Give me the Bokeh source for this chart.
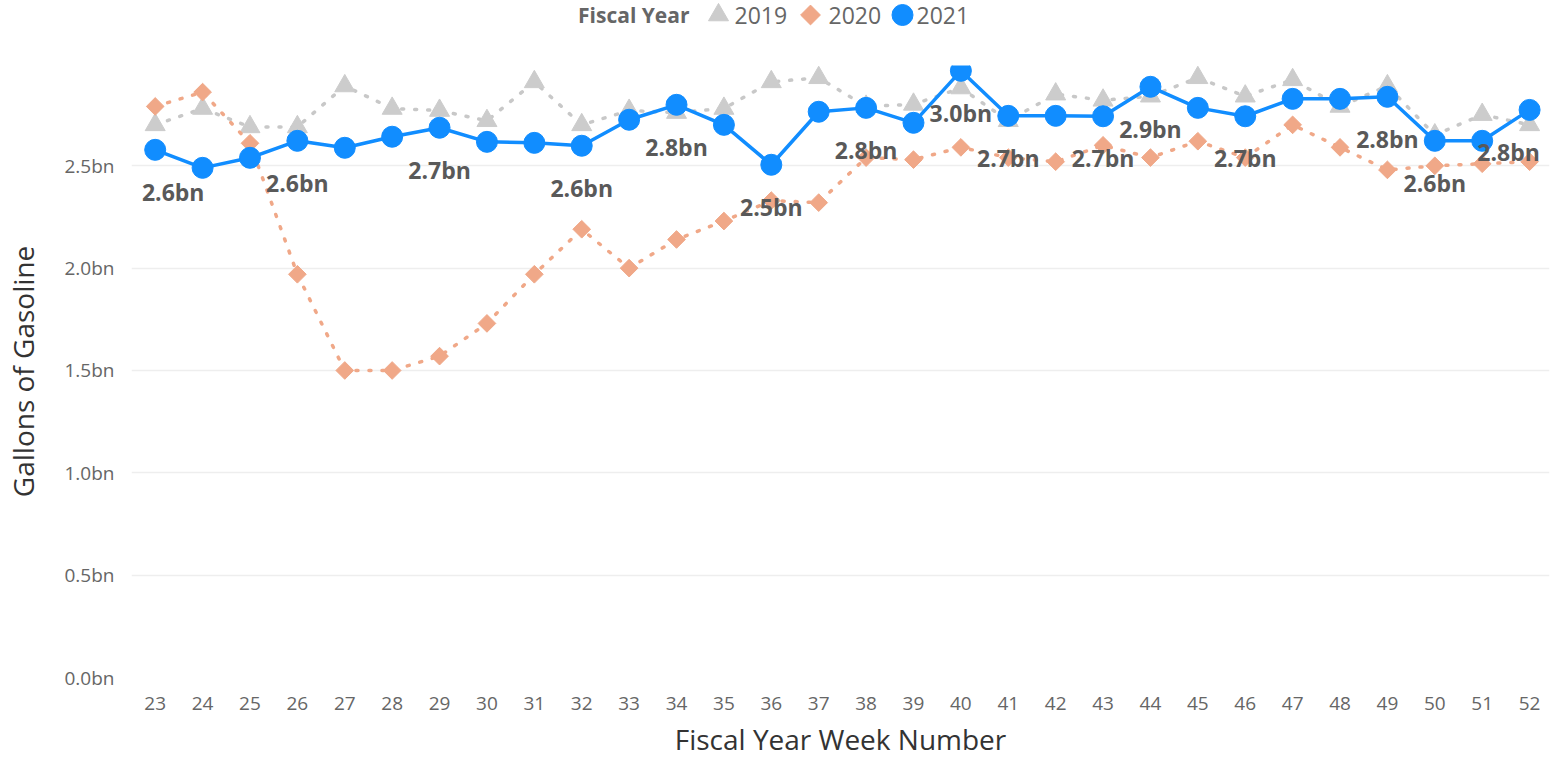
from math import pi
from bokeh.plotting import figure
from bokeh.layouts import column
from bokeh.models import (Range1d, FixedTicker, PrintfTickFormatter,
                          ColumnDataSource)
from bokeh.embed import file_html
from bokeh.resources import INLINE
from bokeh.core.properties import value

# ---------------- data ----------------
weeks = list(range(23, 53))
fy2019 = [2.70, 2.78, 2.69, 2.69, 2.89, 2.78, 2.77, 2.72, 2.91, 2.70,
          2.77, 2.76, 2.78, 2.91, 2.93, 2.79, 2.80, 2.88, 2.72, 2.85,
          2.82, 2.84, 2.93, 2.84, 2.92, 2.79, 2.89, 2.65, 2.75, 2.70]
fy2020 = [2.79, 2.86, 2.61, 1.97, 1.50, 1.50, 1.57, 1.73, 1.97, 2.19,
          2.00, 2.14, 2.23, 2.33, 2.32, 2.54, 2.53, 2.59, 2.54, 2.52,
          2.60, 2.54, 2.62, 2.54, 2.70, 2.59, 2.48, 2.50, 2.51, 2.52]
fy2021 = [2.578, 2.490, 2.539, 2.622, 2.588, 2.642, 2.686, 2.617, 2.612, 2.598,
          2.725, 2.798, 2.700, 2.505, 2.764, 2.783, 2.710, 2.964, 2.744, 2.744,
          2.742, 2.886, 2.783, 2.742, 2.827, 2.827, 2.837, 2.622, 2.622, 2.773]
series_names = ["2019", "2020", "2021"]
legend_title = "Fiscal Year"
label_weeks = [23, 26, 29, 32, 34, 36, 38, 40, 41, 43, 44, 46, 49, 50, 52]
y_ticks = [0.0, 0.5, 1.0, 1.5, 2.0, 2.5]

# ---------------- style ----------------
FONT = "Open Sans"
C19, C20, C21 = "#CCCCCC", "#F0A888", "#118DFF"
TICK_C, TITLE_C, LBL_C = "#666666", "#333333", "#595959"
label_dx = [18, 0, 0, 0, 0, 0, 0, 0, 0, 0, 0, 0, 0, 0, -21]
LEFT = 130
TOP_H = 65
FW, FH = 1418, 612

# ---------------- main chart ----------------
p = figure(frame_width=FW, frame_height=FH, output_backend="svg",
           toolbar_location=None,
           x_range=Range1d(22.5, 52.42), y_range=Range1d(0, 2.99),
           min_border_left=LEFT, min_border_right=8,
           min_border_top=0, min_border_bottom=80)
p.outline_line_color = None
p.background_fill_color = "white"
p.border_fill_color = "white"

xa, ya = p.xaxis[0], p.yaxis[0]
xa.ticker = FixedTicker(ticks=weeks)
ya.ticker = FixedTicker(ticks=y_ticks)
ya.formatter = PrintfTickFormatter(format="%.1fbn")
for ax in (xa, ya):
    ax.axis_line_color = None
    ax.major_tick_line_color = None
    ax.minor_tick_line_color = None
    ax.major_tick_out = 0
    ax.major_tick_in = 0
    ax.major_label_text_font = FONT
    ax.major_label_text_color = TICK_C
    ax.major_label_text_font_size = "19px"
    ax.axis_label_text_font = FONT
    ax.axis_label_text_color = TITLE_C
    ax.axis_label_text_font_size = "28px"
    ax.axis_label_text_font_style = "normal"
xa.axis_label = "Fiscal Year Week Number"
ya.axis_label = "Gallons of Gasoline"
xa.major_label_standoff = 19
xa.axis_label_standoff = 7
ya.major_label_standoff = 17
ya.axis_label_standoff = 20

p.xgrid.grid_line_color = None
p.ygrid.grid_line_color = "#EEEEEE"
p.ygrid.grid_line_width = 1.5

p.line(weeks, fy2019, line_color="#C8C8C8", line_width=3.5,
       line_dash="2 11", line_cap="round")
p.scatter(weeks, fy2019, marker="triangle", size=20,
          fill_color=C19, line_color=C19)
p.line(weeks, fy2020, line_color=C20, line_width=3.5,
       line_dash="2 11", line_cap="round")
p.scatter(weeks, fy2020, marker="square", angle=pi / 4, size=12.5,
          fill_color=C20, line_color=C20)
p.line(weeks, fy2021, line_color=C21, line_width=3.5)
p.scatter(weeks, fy2021, marker="circle", size=21,
          fill_color=C21, line_color=C21)

lab_vals = [fy2021[weeks.index(w)] for w in label_weeks]
src = ColumnDataSource(dict(x=label_weeks, y=lab_vals,
                            t=[f"{v:.1f}bn" for v in lab_vals],
                            dx=label_dx))
p.text(x="x", y="y", text="t", source=src, x_offset="dx", y_offset=42,
       text_align="center", text_baseline="middle",
       text_font=value(FONT), text_font_style="bold",
       text_font_size="23px", text_color=LBL_C)

# ---------------- legend strip above (page-pixel ranges) ----------------
# the column aligns this strip's frame with the chart's frame (left = LEFT)
lf = figure(frame_width=FW, frame_height=TOP_H, output_backend="svg",
            toolbar_location=None, x_axis_type=None, y_axis_type=None,
            x_range=Range1d(LEFT, LEFT + FW), y_range=Range1d(0, TOP_H),
            min_border=0, min_border_left=LEFT, min_border_right=8)
lf.outline_line_color = None
lf.xgrid.visible = False
lf.ygrid.visible = False

LEG_Y = TOP_H - 14.5
swatch_x = [717, 809, 901]          # legend layout positions (px)
text_x = [733, 827, 915]
lf.scatter(x=[swatch_x[0]], y=[LEG_Y], marker="triangle", size=20,
           fill_color=C19, line_color=C19)
lf.scatter(x=[swatch_x[1]], y=[LEG_Y], marker="square", angle=pi / 4,
           size=14, fill_color=C20, line_color=C20)
lf.scatter(x=[swatch_x[2]], y=[LEG_Y], marker="circle", size=21,
           fill_color=C21, line_color=C21)
lf.text(x=text_x, y=[LEG_Y] * 3, text=series_names,
        text_align="left", text_baseline="middle",
        text_font=value(FONT), text_font_size="23px", text_color=TICK_C)
lf.text(x=[688], y=[LEG_Y], text=[legend_title],
        text_align="right", text_baseline="middle",
        text_font=value(FONT), text_font_style="bold",
        text_font_size="21px", text_color=TICK_C)

layout = column(lf, p, spacing=0)
open("out.html", "w").write(file_html(layout, INLINE))
